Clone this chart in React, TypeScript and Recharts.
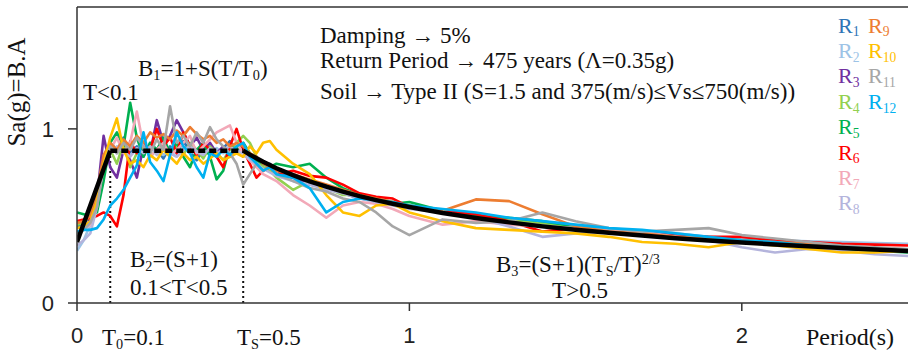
import React from "react";
import { LineChart, Line, XAxis, YAxis, ReferenceLine } from "recharts";

// Periods (s) at which every response spectrum is sampled
const periods = [
  0, 0.02, 0.04, 0.06, 0.08, 0.1, 0.12, 0.14, 0.16, 0.18,
  0.2, 0.22, 0.24, 0.26, 0.28, 0.3, 0.32, 0.34, 0.36, 0.38,
  0.4, 0.42, 0.44, 0.46, 0.48, 0.5, 0.52, 0.54, 0.56, 0.58,
  0.6, 0.65, 0.7, 0.75, 0.8, 0.85, 0.9, 0.95, 1.0,
  1.1, 1.2, 1.3, 1.4, 1.5, 1.6, 1.7, 1.8, 1.9, 2.0,
  2.1, 2.2, 2.3, 2.4, 2.5,
];

// Design spectrum Sa(g) = B.A
const designSa = [
  0.35, 0.455, 0.56, 0.665, 0.77, 0.875, 0.875, 0.875, 0.875, 0.875,
  0.875, 0.875, 0.875, 0.875, 0.875, 0.875, 0.875, 0.875, 0.875, 0.875,
  0.875, 0.875, 0.875, 0.875, 0.875, 0.875, 0.852, 0.831, 0.811, 0.793,
  0.774, 0.734, 0.699, 0.668, 0.64, 0.614, 0.591, 0.57, 0.551,
  0.517, 0.488, 0.463, 0.44, 0.421, 0.403, 0.387, 0.372, 0.359, 0.347,
  0.336, 0.326, 0.316, 0.307, 0.299,
];

// Scaled record spectra R1..R12
const r1 = [
  0.44, 0.45, 0.46, 0.55, 0.8, 0.92, 0.88, 0.95, 0.86, 0.9,
  0.84, 0.92, 0.88, 0.83, 0.9, 0.86, 0.93, 0.87, 0.82, 0.88,
  0.91, 0.85, 0.89, 0.93, 0.87, 0.9, 0.84, 0.8, 0.78, 0.8,
  0.76, 0.72, 0.7, 0.66, 0.64, 0.62, 0.6, 0.57, 0.56,
  0.53, 0.5, 0.47, 0.45, 0.43, 0.41, 0.4, 0.38, 0.37, 0.355,
  0.34, 0.33, 0.32, 0.31, 0.3,
];
const r2 = [
  0.3, 0.36, 0.45, 0.62, 0.82, 0.9, 0.86, 0.89, 0.85, 0.88,
  0.86, 0.9, 0.87, 0.85, 0.88, 0.86, 0.89, 0.86, 0.88, 0.85,
  0.87, 0.89, 0.86, 0.88, 0.87, 0.89, 0.84, 0.82, 0.79, 0.78,
  0.77, 0.74, 0.7, 0.67, 0.65, 0.62, 0.6, 0.58, 0.56,
  0.52, 0.49, 0.46, 0.45, 0.43, 0.42, 0.41, 0.4, 0.38, 0.37,
  0.36, 0.355, 0.35, 0.345, 0.34,
];
const r3 = [
  0.46, 0.47, 0.48, 0.6, 0.96, 0.78, 0.72, 0.88, 0.82, 0.72,
  0.9, 0.86, 1.05, 0.92, 0.96, 1.05, 0.98, 0.9, 0.95, 0.88,
  0.92, 0.86, 0.9, 0.84, 0.88, 0.9, 0.82, 0.8, 0.76, 0.78,
  0.74, 0.72, 0.68, 0.66, 0.63, 0.6, 0.59, 0.57, 0.55,
  0.52, 0.5, 0.47, 0.44, 0.42, 0.41, 0.39, 0.38, 0.37, 0.35,
  0.34, 0.33, 0.32, 0.31, 0.3,
];
const r4 = [
  0.45, 0.46, 0.5, 0.62, 0.75, 0.88, 0.8, 0.92, 0.78, 0.86,
  0.9, 0.84, 0.88, 0.92, 0.86, 0.9, 0.85, 0.92, 0.88, 0.83,
  0.9, 0.86, 0.82, 0.88, 0.92, 0.96, 0.92, 0.84, 0.78, 0.76,
  0.72, 0.65, 0.7, 0.66, 0.62, 0.62, 0.6, 0.58, 0.56,
  0.53, 0.5, 0.48, 0.46, 0.44, 0.42, 0.41, 0.39, 0.37, 0.36,
  0.35, 0.34, 0.32, 0.31, 0.3,
];
const r5 = [
  0.52, 0.51, 0.5, 0.52, 0.7, 0.92, 0.98, 0.9, 1.15, 0.95,
  0.84, 0.92, 0.88, 0.95, 0.86, 0.92, 0.84, 0.78, 0.88, 0.92,
  0.84, 0.71, 0.76, 0.9, 0.88, 0.92, 0.86, 0.82, 0.8, 0.78,
  0.8, 0.78, 0.8, 0.72, 0.66, 0.62, 0.58, 0.57, 0.58,
  0.53, 0.5, 0.49, 0.47, 0.44, 0.42, 0.41, 0.39, 0.37, 0.36,
  0.35, 0.33, 0.31, 0.3, 0.29,
];
const r6 = [
  0.47, 0.48, 0.49, 0.5, 0.52, 0.5, 0.44, 0.62, 0.93, 0.86,
  0.92, 0.88, 1.0, 0.9, 0.95, 0.86, 0.98, 0.9, 0.85, 0.92,
  0.88, 0.84, 0.78, 0.9, 1.0, 0.88, 0.8, 0.72, 0.76, 0.78,
  0.74, 0.76, 0.73, 0.72, 0.68, 0.63, 0.61, 0.6, 0.55,
  0.53, 0.51, 0.47, 0.41, 0.43, 0.42, 0.41, 0.39, 0.38, 0.38,
  0.36, 0.35, 0.34, 0.335, 0.33,
];
const r7 = [
  0.4, 0.42, 0.45, 0.58, 0.78, 0.88, 0.95, 0.86, 0.92, 1.1,
  0.9, 0.84, 0.88, 0.92, 0.85, 0.88, 0.92, 0.96, 0.86, 0.9,
  0.94, 0.98, 1.0, 1.02, 0.92, 0.86, 0.82, 0.78, 0.74, 0.72,
  0.7, 0.62, 0.56, 0.49, 0.56, 0.58, 0.57, 0.54, 0.5,
  0.45, 0.47, 0.45, 0.44, 0.43, 0.42, 0.41, 0.38, 0.37, 0.36,
  0.34, 0.33, 0.32, 0.31, 0.3,
];
const r8 = [
  0.33, 0.36, 0.4, 0.55, 0.8, 0.86, 0.9, 0.87, 0.84, 0.89,
  0.86, 0.9, 0.85, 0.88, 0.86, 0.84, 0.88, 0.9, 0.87, 0.85,
  0.89, 0.86, 0.88, 0.9, 0.87, 0.86, 0.82, 0.8, 0.77, 0.75,
  0.73, 0.7, 0.68, 0.65, 0.63, 0.6, 0.58, 0.56, 0.54,
  0.52, 0.49, 0.44, 0.38, 0.4, 0.41, 0.39, 0.38, 0.36, 0.32,
  0.29, 0.31, 0.3, 0.28, 0.27,
];
const r9 = [
  0.46, 0.47, 0.5, 0.64, 0.85, 0.92, 0.88, 0.94, 0.9, 0.96,
  0.92, 0.98, 0.95, 0.97, 0.94, 0.99, 0.96, 1.01, 0.97, 0.94,
  0.96, 0.92, 0.94, 0.9, 0.92, 0.9, 0.86, 0.84, 0.8, 0.78,
  0.76, 0.74, 0.71, 0.68, 0.65, 0.62, 0.6, 0.58, 0.55,
  0.53, 0.595, 0.585, 0.51, 0.44, 0.41, 0.4, 0.38, 0.37, 0.36,
  0.35, 0.34, 0.32, 0.31, 0.3,
];
const r10 = [
  0.43, 0.44, 0.47, 0.58, 0.8, 0.95, 1.06, 0.88, 0.8, 0.82,
  0.78, 0.85, 0.82, 0.88, 0.84, 0.8, 0.86, 0.82, 0.84, 0.8,
  0.83, 0.86, 0.82, 0.84, 0.86, 0.84, 0.9, 0.86, 0.92, 0.93,
  0.88, 0.8, 0.74, 0.62, 0.52, 0.5, 0.56, 0.57, 0.52,
  0.47, 0.43, 0.42, 0.41, 0.4, 0.38, 0.35, 0.34, 0.32, 0.35,
  0.33, 0.31, 0.29, 0.29, 0.3,
];
const r11 = [
  0.4, 0.42, 0.46, 0.55, 0.78, 0.9, 0.86, 0.92, 0.88, 0.95,
  0.9, 0.86, 0.94, 0.88, 1.13, 0.92, 0.96, 0.9, 0.98, 0.92,
  1.01, 0.94, 0.9, 0.86, 0.8, 0.68, 0.74, 0.8, 0.76, 0.78,
  0.74, 0.7, 0.66, 0.64, 0.6, 0.58, 0.52, 0.44, 0.39,
  0.48, 0.46, 0.47, 0.52, 0.47, 0.43, 0.41, 0.42, 0.43, 0.39,
  0.37, 0.35, 0.33, 0.32, 0.31,
];
const r12 = [
  0.41, 0.42, 0.42, 0.43, 0.48, 0.56, 0.6, 0.65, 0.72, 0.79,
  0.98, 0.81, 0.76, 0.7, 0.85, 0.98, 0.9, 0.86, 0.78, 0.72,
  0.86, 0.84, 0.88, 0.85, 0.9, 0.92, 0.84, 0.8, 0.76, 0.78,
  0.74, 0.72, 0.66, 0.52, 0.58, 0.6, 0.59, 0.58, 0.56,
  0.54, 0.52, 0.49, 0.47, 0.45, 0.43, 0.42, 0.4, 0.38, 0.36,
  0.35, 0.33, 0.32, 0.31, 0.3,
];

const records = [r1, r2, r3, r4, r5, r6, r7, r8, r9, r10, r11, r12];
const recordColors = [
  "#2E75B6", "#9DC3E6", "#7030A0", "#92D050", "#00B050", "#FF0000",
  "#F2A9B8", "#B4B4DC", "#ED7D31", "#FFC000", "#A6A6A6", "#00B0F0",
];

const xTicks = [0, 1, 2];
const yTicks = [0, 1];
const T0 = 0.1;
const TS = 0.5;

const rows = periods.map((p, i) => {
  const row: Record<string, number | null> = { period: p };
  records.forEach((r, k) => {
    row[`r${k + 1}`] = r[i];
  });
  row.ramp = p <= T0 ? designSa[i] : null;
  row.flat = p >= T0 && p <= TS ? designSa[i] : null;
  row.tail = p >= TS ? designSa[i] : null;
  return row;
});

const SERIF = "'Liberation Serif', 'Times New Roman', serif";
const SANS = "'Liberation Sans', Arial, sans-serif";
const AXIS = "#333";

const Sub = ({ children }: { children: React.ReactNode }) => (
  <span style={{ fontSize: "0.62em", position: "relative", top: "0.28em" }}>{children}</span>
);
const Sup = ({ children }: { children: React.ReactNode }) => (
  <span style={{ fontSize: "0.62em", position: "relative", top: "-0.55em" }}>{children}</span>
);

// absolutely placed text; y is the baseline
const Note = ({
  x, y, size = 23, color = "#111", children, center = false,
}: {
  x: number; y: number; size?: number; color?: string; children: React.ReactNode; center?: boolean;
}) => (
  <div
    style={{
      position: "absolute",
      left: x,
      top: y - size * 0.837,
      fontFamily: SERIF,
      fontSize: size,
      lineHeight: 1,
      color,
      whiteSpace: "nowrap",
      transform: center ? "translateX(-50%)" : undefined,
    }}
  >
    {children}
  </div>
);

const legendCols = [
  { x: 838, items: [0, 1, 2, 3, 4, 5, 6, 7] },
  { x: 868, items: [8, 9, 10, 11] },
];

export default function App() {
  return (
    <div style={{ position: "absolute", left: 0, top: 0, width: 909, height: 351, background: "#fff" }}>
      <LineChart
        width={909}
        height={351}
        data={rows}
        margin={{ top: 7, right: 1, bottom: 8, left: 17 }}
      >
        <XAxis
          type="number"
          dataKey="period"
          domain={[0, 2.5]}
          ticks={xTicks}
          allowDataOverflow
          height={40}
          tickSize={8}
          tickMargin={16}
          axisLine={{ stroke: AXIS, strokeWidth: 1.5 }}
          tickLine={{ stroke: AXIS, strokeWidth: 1.5 }}
          tick={{ fontSize: 22, fill: "#222", fontFamily: SANS }}
        />
        <YAxis
          type="number"
          domain={[0, 1.7]}
          ticks={yTicks}
          allowDataOverflow
          width={60}
          tickSize={9}
          tickMargin={14}
          axisLine={{ stroke: AXIS, strokeWidth: 1.5 }}
          tickLine={{ stroke: AXIS, strokeWidth: 1.5 }}
          tick={{ fontSize: 22, fill: "#222", fontFamily: SANS }}
        />
        <ReferenceLine y={1.7} stroke={AXIS} strokeWidth={1.5} />
        <ReferenceLine
          segment={[{ x: T0, y: 0 }, { x: T0, y: designSa[5] }]}
          stroke="#111"
          strokeWidth={2}
          strokeDasharray="2 3"
        />
        <ReferenceLine
          segment={[{ x: TS, y: 0 }, { x: TS, y: designSa[25] }]}
          stroke="#111"
          strokeWidth={2}
          strokeDasharray="2 3"
        />
        {records.map((_, k) => (
          <Line
            key={k}
            type="linear"
            dataKey={`r${k + 1}`}
            stroke={recordColors[k]}
            strokeWidth={2.6}
            strokeLinejoin="round"
            dot={false}
            isAnimationActive={false}
          />
        ))}
        <Line type="linear" dataKey="ramp" stroke="#000" strokeWidth={4.5} dot={false} isAnimationActive={false} />
        <Line
          type="linear"
          dataKey="flat"
          stroke="#000"
          strokeWidth={4.5}
          strokeDasharray="7 4"
          dot={false}
          isAnimationActive={false}
        />
        <Line type="linear" dataKey="tail" stroke="#000" strokeWidth={4.5} dot={false} isAnimationActive={false} />
      </LineChart>

      {/* y axis title */}
      <div
        style={{
          position: "absolute",
          left: 17,
          top: 92,
          transform: "translate(-50%, -50%) rotate(-90deg)",
          fontFamily: SERIF,
          fontSize: 25,
          whiteSpace: "nowrap",
          color: "#111",
        }}
      >
        Sa(g)=B.A
      </div>

      {/* x axis extra labels */}
      <Note x={102} y={345}>T<Sub>0</Sub>=0.1</Note>
      <Note x={237} y={345}>T<Sub>S</Sub>=0.5</Note>
      <Note x={806} y={345} size={24}>Period(s)</Note>

      {/* spectrum branches */}
      <Note x={138} y={76}>B<Sub>1</Sub>=1+S(T/T<Sub>0</Sub>)</Note>
      <Note x={83} y={100}>T&lt;0.1</Note>
      <Note x={130} y={267}>B<Sub>2</Sub>=(S+1)</Note>
      <Note x={130} y={295}>0.1&lt;T&lt;0.5</Note>
      <Note x={578} y={272} center>B<Sub>3</Sub>=(S+1)(T<Sub>S</Sub>/T)<Sup>2/3</Sup></Note>
      <Note x={580} y={298} center>T&gt;0.5</Note>

      {/* parameters */}
      <Note x={320} y={43}>Damping → 5%</Note>
      <Note x={320} y={68}>Return Period → 475 years (Λ=0.35g)</Note>
      <Note x={320} y={99}>Soil → Type II (S=1.5 and 375(m/s)≤Vs≤750(m/s))</Note>

      {/* record legend */}
      {legendCols.map((col) =>
        col.items.map((k, row) => (
          <Note key={k} x={col.x} y={33 + row * 25.4} size={22} color={recordColors[k]}>
            R<Sub>{k + 1}</Sub>
          </Note>
        ))
      )}
    </div>
  );
}
